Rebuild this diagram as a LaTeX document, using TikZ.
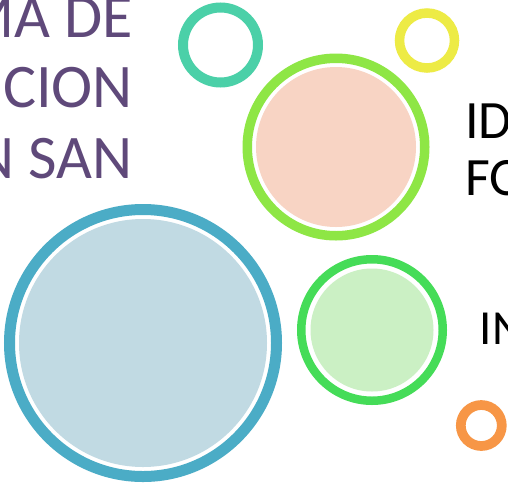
\documentclass[tikz,border=0pt]{standalone}
\usepackage{fontspec}
\setmainfont{Carlito}
\definecolor{cteal}{HTML}{4BD0A8}
\definecolor{cyellow}{HTML}{EDEB45}
\definecolor{cpinkfill}{HTML}{F8D4C4}
\definecolor{climering}{HTML}{8EE645}
\definecolor{cbluering}{HTML}{4BACC6}
\definecolor{cbluefill}{HTML}{C1DAE3}
\definecolor{cgreenring}{HTML}{45DC58}
\definecolor{cgreenfill}{HTML}{CBF0C4}
\definecolor{corange}{HTML}{F79646}
\definecolor{cpurple}{HTML}{5F497A}
\tikzset{
  titletext/.style={anchor=base east, inner sep=0pt, text=cpurple, font=\fontsize{62}{62}\selectfont},
  sidetext/.style={anchor=base west, inner sep=0pt, text=black, font=\fontsize{54}{54}\selectfont},
}
\begin{document}
\begin{tikzpicture}[x=1pt,y=-1pt]
\useasboundingbox (0,0) rectangle (508,483);
\clip (0,0) rectangle (508,483);
\fill[white] (0,0) rectangle (508,483);
% title text (cropped)
\node[titletext] (t1) at (133,37) {MA DE};
\node[titletext] (t2) at (133,107) {CION};
\node[titletext] (t3) at (133,178) {N SAN};
% side texts
\node[sidetext] (s1) at (465,138) {ID};
\node[sidetext] (s2) at (465,195) {FO};
\node[sidetext, font=\fontsize{49}{49}\selectfont] (s3) at (479.5,344) {IN};
% small rings
\draw[cteal, line width=10pt] (220.5,45) circle (37.5);
\draw[cyellow, line width=9.5pt] (427,40.5) circle (27.5);
\draw[corange, line width=9.7pt] (481.3,425.5) circle (20.5);
% pink circle with lime ring
\fill[cpinkfill] (336,147) circle (80);
\draw[climering, line width=9.5pt] (336,147) circle (88.75);
% big blue circle
\fill[cbluefill] (143,343) circle (124);
\draw[cbluering, line width=11pt] (143,343) circle (133.5);
% light green circle
\fill[cgreenfill] (372,330) circle (61.5);
\draw[cgreenring, line width=8.5pt] (372,330) circle (70.75);
\end{tikzpicture}
\end{document}
